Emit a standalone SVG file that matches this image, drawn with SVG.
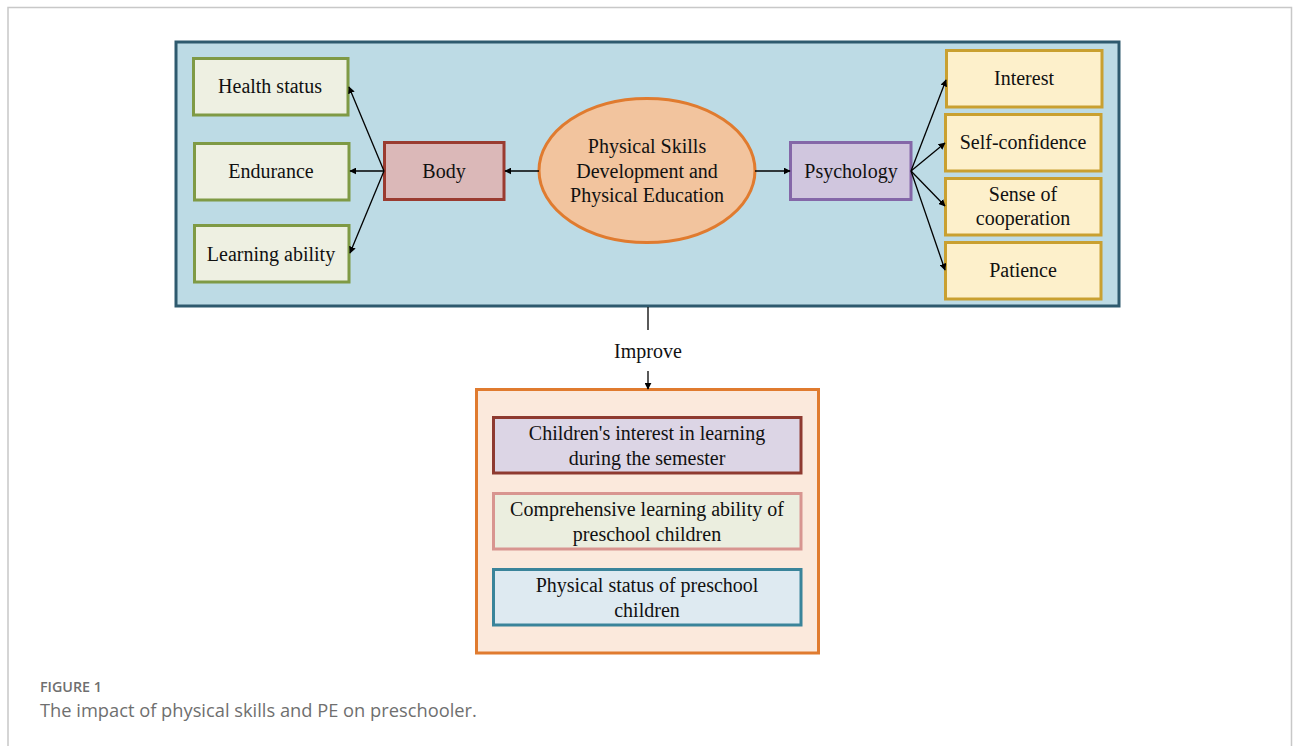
<svg xmlns="http://www.w3.org/2000/svg" width="1293" height="746" viewBox="0 0 1293 746" font-family="'Liberation Serif', Tinos, 'Times New Roman', serif">
<defs>
<marker id="ah" viewBox="0 0 10 10" refX="9" refY="5" markerWidth="7" markerHeight="7" markerUnits="userSpaceOnUse" orient="auto">
<path d="M0,0 L10,5 L0,10 Z" fill="#000"/>
</marker>
<style>
.t{font-family:'Liberation Serif',Tinos,'Times New Roman',serif;font-size:20px;fill:#111;text-anchor:middle}
.green{fill:#eef0e2;stroke:#7f9a45;stroke-width:3}
.yellow{fill:#fdf0cb;stroke:#c9a030;stroke-width:3}
.conn line{stroke:#000;stroke-width:1.3;marker-end:url(#ah)}
.cap{font-family:'Open Sans',Lato,sans-serif;text-anchor:start;fill:#6f6f6f}
</style>
</defs>
<rect x="0" y="0" width="1293" height="746" fill="#fff"/>
<path d="M8,746 V7.5 H1291.5 V746" fill="none" stroke="#c8c8c8" stroke-width="1.5"/>
<g id="panel"><rect x="176" y="42" width="943" height="264" fill="#bddbe5" stroke="#2e5a6e" stroke-width="3"/></g>
<g id="health"><rect class="green" x="193.5" y="58.5" width="154.5" height="56.5"/><text class="t" x="270" y="93">Health status</text></g>
<g id="endurance"><rect class="green" x="194.5" y="143.5" width="154.5" height="56.5"/><text class="t" x="271" y="178">Endurance</text></g>
<g id="learning"><rect class="green" x="194.5" y="225.5" width="154.5" height="56.5"/><text class="t" x="271" y="261">Learning ability</text></g>
<g id="body"><rect x="384.5" y="142.5" width="119.5" height="57" fill="#dbb8b8" stroke="#9a3b30" stroke-width="3"/><text class="t" x="444" y="178">Body</text></g>
<g id="center"><ellipse cx="647" cy="170.5" rx="108" ry="72" fill="#f2c49e" stroke="#e07b2f" stroke-width="3"/><text class="t" x="647" y="153">Physical Skills</text><text class="t" x="647" y="178">Development and</text><text class="t" x="647" y="202">Physical Education</text></g>
<g id="psychology"><rect x="790.5" y="142.5" width="120.5" height="57" fill="#d0c6de" stroke="#8467a8" stroke-width="3"/><text class="t" x="851" y="178">Psychology</text></g>
<g id="interest"><rect class="yellow" x="946.5" y="50.5" width="155.5" height="56.5"/><text class="t" x="1024" y="85">Interest</text></g>
<g id="selfconf"><rect class="yellow" x="945.5" y="114.5" width="155.5" height="56.5"/><text class="t" x="1023" y="149">Self-confidence</text></g>
<g id="sense"><rect class="yellow" x="945.5" y="178.5" width="155.5" height="56.5"/><text class="t" x="1023" y="201">Sense of</text><text class="t" x="1023" y="225">cooperation</text></g>
<g id="patience"><rect class="yellow" x="945.5" y="242.5" width="155.5" height="56.5"/><text class="t" x="1023" y="277">Patience</text></g>
<g id="improve"><rect x="476.5" y="389.5" width="342" height="263.5" fill="#fbe9dc" stroke="#e07b2f" stroke-width="3"/></g>
<g id="interestlearn"><rect x="493.5" y="417.5" width="307.5" height="55.5" fill="#dcd5e5" stroke="#8e3a30" stroke-width="3"/><text class="t" x="647" y="440">Children's interest in learning</text><text class="t" x="647" y="465">during the semester</text></g>
<g id="comprehensive"><rect x="493.5" y="493.5" width="307.5" height="55.5" fill="#ebeedf" stroke="#d89590" stroke-width="3"/><text class="t" x="647" y="516">Comprehensive learning ability of</text><text class="t" x="647" y="541">preschool children</text></g>
<g id="physstatus"><rect x="493.5" y="569.5" width="307.5" height="55.5" fill="#deeaf1" stroke="#3a849a" stroke-width="3"/><text class="t" x="647" y="592">Physical status of preschool</text><text class="t" x="647" y="617">children</text></g>
<g id="connectors" class="conn">
<line x1="539" y1="171" x2="505" y2="171"/>
<line x1="384" y1="171" x2="349" y2="87"/>
<line x1="384" y1="171" x2="350" y2="171"/>
<line x1="384" y1="171" x2="350" y2="253"/>
<line x1="755" y1="171" x2="790" y2="171"/>
<line x1="911" y1="171" x2="946" y2="80"/>
<line x1="911" y1="171" x2="945" y2="143"/>
<line x1="911" y1="171" x2="945" y2="206"/>
<line x1="911" y1="171" x2="945" y2="270"/>
<line x1="648" y1="307" x2="648" y2="330" style="marker-end:none"/>
<line x1="648" y1="371" x2="648" y2="389"/>
</g>
<text class="t" x="648" y="358">Improve</text>
<text class="cap" x="40" y="692" style="font-size:14.3px;font-weight:600">FIGURE 1</text>
<text class="cap" x="40" y="717" style="font-size:18.3px">The impact of physical skills and PE on preschooler.</text>
</svg>
